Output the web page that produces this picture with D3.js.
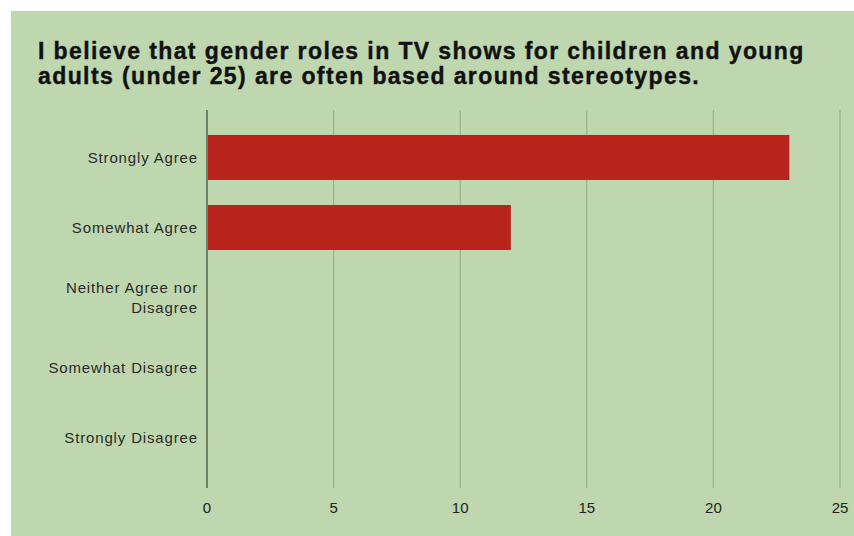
<!DOCTYPE html>
<html lang="en">
<head>
	<meta charset="UTF-8"/>
	<title>Gender roles in TV shows - Bar Chart</title>
	<script src="https://d3js.org/d3.v7.min.js"></script>
	<style>
		body {
			margin: 0;
			background-color: #FFFFFF;
			font-family: "Liberation Sans", Arial, sans-serif;
		}
	</style>
</head>
<body>
	<div id="chart"></div>
	<script>
		// chart data
		var titleLines = [
			"I believe that gender roles in TV shows for children and young",
			"adults (under 25) are often based around stereotypes."
		];
		var categories = [
			"Strongly Agree",
			"Somewhat Agree",
			"Neither Agree nor Disagree",
			"Somewhat Disagree",
			"Strongly Disagree"
		];
		var responses = [23, 12, 0, 0, 0];
		var xTicks = [0, 5, 10, 15, 20, 25];

		var w = 854;
		var h = 536;
		var plotLeft = 207, plotRight = 840;   // plot area
		var plotTop = 110, plotBottom = 488;

		var svg = d3.select("#chart")
			.append("svg")
			.attr("width", w)
			.attr("height", h);

		// green panel
		svg.append("rect")
			.attr("x", 11)
			.attr("y", 11)
			.attr("width", w - 11)
			.attr("height", h - 11)
			.attr("fill", "#BED7AE");

		// title
		svg.append("text")
			.attr("x", 38)
			.attr("font-size", "23px")
			.attr("font-weight", "bold")
			.attr("letter-spacing", "1.4px")
			.attr("fill", "#111")
			.attr("stroke", "#111")
			.attr("stroke-width", 0.4)
			.selectAll("tspan")
			.data(titleLines)
			.enter()
			.append("tspan")
			.attr("x", 38)
			.attr("y", function(d, i) { return 59 + i * 25; })
			.text(function(d) { return d; });

		var xScale = d3.scaleLinear()
			.domain([0, 25])
			.range([plotLeft, plotRight]);

		var yScale = d3.scaleBand()
			.domain(categories)
			.range([122.5, 472.5])
			.paddingInner(0.357)
			.paddingOuter(0.357 / 2);

		// gridlines
		svg.append("g")
			.selectAll("line")
			.data(xTicks.slice(1))
			.enter()
			.append("line")
			.attr("x1", function(d) { return xScale(d); })
			.attr("x2", function(d) { return xScale(d); })
			.attr("y1", plotTop)
			.attr("y2", plotBottom)
			.attr("stroke", "#9CB08F")
			.attr("stroke-width", 1.2);

		// bars
		svg.selectAll("rect.bar")
			.data(responses)
			.enter()
			.append("rect")
			.attr("class", "bar")
			.attr("x", xScale(0))
			.attr("y", function(d, i) { return yScale(categories[i]); })
			.attr("width", function(d) { return xScale(d) - xScale(0); })
			.attr("height", yScale.bandwidth())
			.attr("fill", "#B8241B");

		// zero line
		svg.append("line")
			.attr("x1", xScale(0))
			.attr("x2", xScale(0))
			.attr("y1", plotTop)
			.attr("y2", plotBottom)
			.attr("stroke", "#6F7F66")
			.attr("stroke-width", 2);

		// x tick labels
		svg.append("g")
			.selectAll("text")
			.data(xTicks)
			.enter()
			.append("text")
			.attr("x", function(d) { return xScale(d); })
			.attr("y", 513)
			.attr("text-anchor", "middle")
			.attr("font-size", "15px")
			.attr("fill", "#222")
			.text(function(d) { return d; });

		// category labels (wrap the long one)
		var labelG = svg.append("g");
		categories.forEach(function(c) {
			var lines = c === "Neither Agree nor Disagree" ? ["Neither Agree nor", "Disagree"] : [c];
			var cy = yScale(c) + yScale.bandwidth() / 2;
			var t = labelG.append("text")
				.attr("text-anchor", "end")
				.attr("font-size", "15px")
				.attr("letter-spacing", "0.85px")
				.attr("fill", "#2a2a2a");
			lines.forEach(function(l, i) {
				t.append("tspan")
					.attr("x", 198)
					.attr("y", cy + 5 + (i - (lines.length - 1) / 2) * 20)
					.text(l);
			});
		});
	</script>
</body>
</html>
